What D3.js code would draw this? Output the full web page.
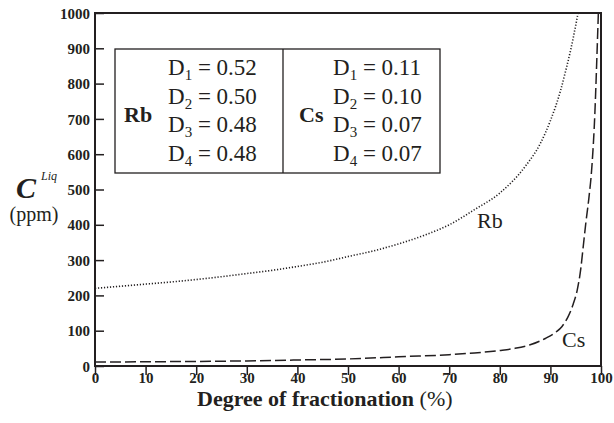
<!DOCTYPE html>
<html>
<head>
<meta charset="utf-8">
<script src="https://cdn.jsdelivr.net/npm/d3@7"></script>
<style>
  body { margin: 0; background: #fff; }
  svg { display: block; }
  text { font-family: "Liberation Serif", "Times New Roman", serif; fill: #231f20; }
  .tick text { font-size: 15px; font-weight: bold; }
</style>
</head>
<body>
<svg id="chart" width="614" height="423"></svg>
<script>
// ---- data ----
const xTicks = [0, 10, 20, 30, 40, 50, 60, 70, 80, 90, 100];
const yTicks = [0, 100, 200, 300, 400, 500, 600, 700, 800, 900, 1000];

const rbF = [0, 5, 10, 15, 20, 25, 30, 35, 40, 45, 50, 55, 60, 65, 70, 75, 80, 85, 88, 90, 92, 93, 94, 95, 95.6];
const rbC = [220, 226, 232, 238, 245, 253, 262, 271, 282, 294, 310, 326, 346, 370, 400, 443, 490, 565, 630, 695, 780, 835, 895, 965, 1010];

const csF = [0, 10, 20, 30, 40, 50, 57, 60, 70, 75, 80, 83, 86, 89, 91, 92.3, 93.5, 94.5, 95.3, 96, 96.5, 97, 97.6, 98.2, 98.8, 99.2, 99.5];
const csC = [11, 12, 13, 14.5, 17, 20, 24, 26, 32, 37, 44, 50, 60, 78, 95, 112, 140, 175, 215, 275, 340, 405, 475, 565, 720, 880, 1010];

const legendRb = ["0.52", "0.50", "0.48", "0.48"];
const legendCs = ["0.11", "0.10", "0.07", "0.07"];

// ---- layout ----
const svg = d3.select("#chart");
const ink = "#231f20";
const x = d3.scaleLinear().domain([0, 100]).range([95, 601]);
const y = d3.scaleLinear().domain([0, 1000]).range([366, 13]);

svg.append("defs").append("clipPath").attr("id", "plotclip")
  .append("rect").attr("x", 95).attr("y", 13).attr("width", 506).attr("height", 353);

// curves
const line = d3.line().x(d => x(d[0])).y(d => y(d[1])).curve(d3.curveMonotoneX);
const g = svg.append("g").attr("clip-path", "url(#plotclip)");
g.append("path").datum(rbF.map((f, i) => [f, rbC[i]]))
  .attr("d", line).attr("fill", "none").attr("stroke", ink)
  .attr("stroke-width", 1.6).attr("stroke-dasharray", "1.2,1.8");
g.append("path").datum(csF.map((f, i) => [f, csC[i]]))
  .attr("d", line).attr("fill", "none").attr("stroke", ink)
  .attr("stroke-width", 1.5).attr("stroke-dasharray", "11,4");

// axes
const fmt = d3.format("d");
const xAxis = d3.axisBottom(x).tickValues(xTicks).tickFormat(fmt).tickSize(9).tickSizeOuter(0);
const yAxis = d3.axisLeft(y).tickValues(yTicks).tickFormat(fmt).tickSize(-9).tickSizeOuter(0).tickPadding(5);

const gx = svg.append("g").attr("transform", "translate(0,366)").call(xAxis);
const gy = svg.append("g").attr("transform", "translate(95,0)").call(yAxis);
[gx, gy].forEach(a => {
  a.select(".domain").remove();
  a.selectAll(".tick line").attr("stroke", ink).attr("stroke-width", 1.5);
  a.selectAll(".tick text").attr("fill", ink);
});
gx.selectAll(".tick text").attr("y", 17).attr("dy", "0");
gy.selectAll(".tick text").attr("dy", "0.34em");

// frame
svg.append("rect").attr("x", 95).attr("y", 13).attr("width", 506).attr("height", 353)
  .attr("fill", "none").attr("stroke", ink).attr("stroke-width", 2);

// x title
const xt = svg.append("text").attr("x", 197).attr("y", 406).style("font-size", "22px");
xt.append("tspan").text("Degree of fractionation ").style("font-weight", "bold");
xt.append("tspan").text("(%)");

// y title
const yt = svg.append("text").attr("x", 16).attr("y", 198);
yt.append("tspan").text("C").style("font-size", "30px").style("font-weight", "bold").style("font-style", "italic");
yt.append("tspan").text("Liq").attr("dx", 5).attr("dy", -18).style("font-size", "12px").style("font-style", "italic");
svg.append("text").attr("x", 34).attr("y", 221).attr("text-anchor", "middle")
  .style("font-size", "20px").text("(ppm)");

// legend box
svg.append("rect").attr("x", 115).attr("y", 49).attr("width", 325).attr("height", 124)
  .attr("fill", "#fff").attr("stroke", ink).attr("stroke-width", 1.3);
svg.append("line").attr("x1", 283).attr("x2", 283).attr("y1", 49).attr("y2", 173)
  .attr("stroke", ink).attr("stroke-width", 1.3);

svg.append("text").attr("x", 124).attr("y", 122).style("font-size", "22px").style("font-weight", "bold").text("Rb");
svg.append("text").attr("x", 299).attr("y", 122).style("font-size", "22px").style("font-weight", "bold").text("Cs");

function dLines(x0, vals) {
  vals.forEach((v, i) => {
    const t = svg.append("text").attr("x", x0).attr("y", 75 + i * 28.5).style("font-size", "23px");
    t.append("tspan").text("D");
    t.append("tspan").text(String(i + 1)).attr("dy", 5).style("font-size", "15px");
    t.append("tspan").text(" = " + v).attr("dy", -5);
  });
}
dLines(168, legendRb);
dLines(333, legendCs);

// curve labels
svg.append("text").attr("x", 477).attr("y", 228).style("font-size", "22px").text("Rb");
svg.append("text").attr("x", 562).attr("y", 347).style("font-size", "22px").text("Cs");
</script>
</body>
</html>
